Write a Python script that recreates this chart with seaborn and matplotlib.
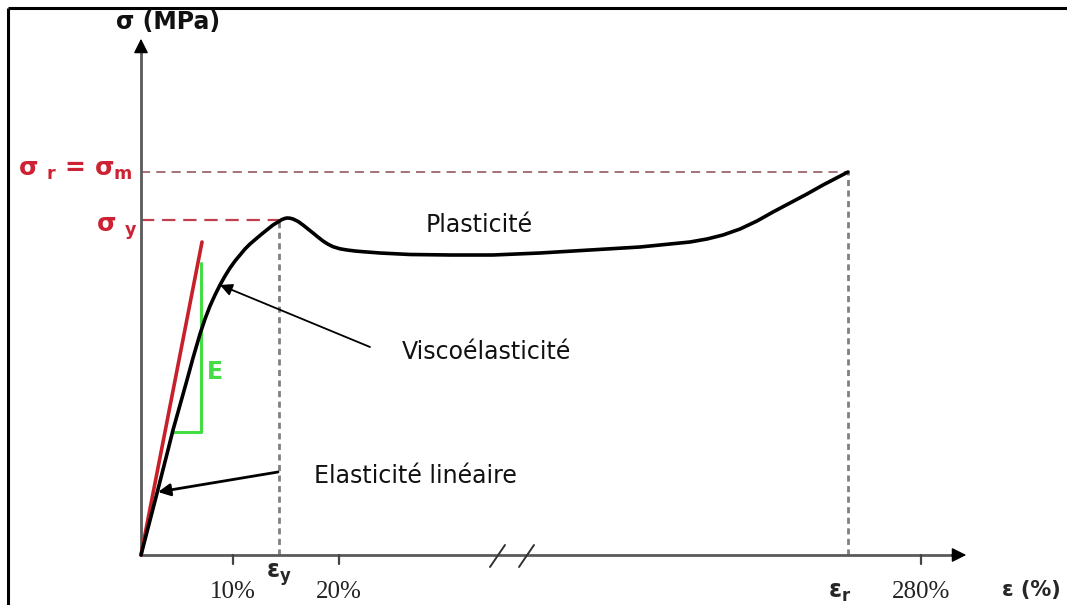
import numpy as np
import pandas as pd
import matplotlib.pyplot as plt
import seaborn as sns

sns.set_style('white')
plt.rcParams['font.family'] = ['DejaVu Sans']
plt.rcParams['mathtext.fontset'] = 'dejavusans'

# schematic units: x = strain position, y = stress (origin at the axes corner)
strain = [0, 14, 27, 32, 46, 52, 59, 64, 69, 74, 79, 84, 89, 94, 99, 104, 109, 116, 122, 127,
          132, 137, 141, 144, 146, 149, 152, 157, 162, 167, 172, 177, 182, 187, 192, 199,
          206, 214, 222, 239, 269, 310, 352, 399, 449, 499, 549, 566, 582, 599, 616, 632,
          649, 666, 682, 707]
stress = [0, 54, 105, 125, 175, 197, 221, 236, 249, 260, 270, 279, 287, 294, 300, 306, 311,
          317, 322, 326, 330, 333, 335.5, 336.6, 337, 336.8, 336, 333.6, 330, 326, 322, 317.9,
          314, 310.8, 308.3, 306.2, 305, 304, 303.3, 302, 300.5, 300, 300, 302, 305, 308, 313,
          316, 320, 326, 334, 343, 352, 361, 370, 383]
curve = pd.DataFrame({'strain': strain, 'stress': stress})

tangent_x = [0, 61]
tangent_y = [0, 313]
slope_x = [32, 60, 60]
slope_y = [123, 123, 292]

eps_y, sig_y = 138, 335
eps_r, sig_r = 707, 383

tick_pos = [92, 198, 780]
tick_labels = ['10%', '20%', '280%']

fig = plt.figure(figsize=(10.67, 6.05), dpi=100)
ax = fig.add_axes([0, 0, 1, 1])
ax.set_xlim(-141, 926)
ax.set_ylim(-50, 555)
ax.axis('off')

# frame (top and left only visible)
ax.plot([-133, 926], [547, 547], color='black', lw=2.2, solid_capstyle='butt')
ax.plot([-133, -133], [-50, 547], color='black', lw=2.2, solid_capstyle='butt')

# guide lines
ax.plot([0, eps_y], [sig_y, sig_y], color='#c0404f', lw=1.6, dashes=(6, 3.5))
ax.plot([0, eps_r], [sig_r, sig_r], color='#8a4a55', lw=1.1, dashes=(6, 4))
ax.plot([eps_y, eps_y], [0, sig_y], color='#808080', lw=2.0, dashes=(2.2, 1.6))
ax.plot([eps_r, eps_r], [0, sig_r], color='#808080', lw=2.0, dashes=(2.2, 1.6))

# axes with arrows
ax.plot([0, 0], [0, 505], color='#5a5a5a', lw=2.0)
ax.plot([0, 812], [0, 0], color='#5a5a5a', lw=2.0)
ax.annotate('', xy=(0, 519), xytext=(0, 500),
            arrowprops=dict(arrowstyle='-|>', color='black', lw=1, mutation_scale=22))
ax.annotate('', xy=(828, 0), xytext=(808, 0),
            arrowprops=dict(arrowstyle='-|>', color='black', lw=1, mutation_scale=22))
for t in tick_pos:
    ax.plot([t, t], [0, -9], color='#444444', lw=1.6)
for bx in [349, 378]:
    ax.plot([bx, bx + 15], [-12, 10], color='#333333', lw=1.4)

# tangent, slope triangle and curve
ax.plot(tangent_x, tangent_y, color='#c8202a', lw=2.6)
ax.plot(slope_x, slope_y, color='#44dd44', lw=2.2)
sns.lineplot(data=curve, x='strain', y='stress', sort=False, estimator=None,
             color='black', lw=2.6, ax=ax)

# arrows to the curve
ax.annotate('', xy=(79, 270), xytext=(229, 208),
            arrowprops=dict(arrowstyle='-|>', color='black', lw=1.3, mutation_scale=18,
                            shrinkA=0, shrinkB=0))
ax.annotate('', xy=(17, 63), xytext=(137, 83),
            arrowprops=dict(arrowstyle='-|>', color='black', lw=2.0, mutation_scale=18,
                            shrinkA=0, shrinkB=0))

# texts
red = '#cc2233'
ax.text(27, 533, 'σ (MPa)', fontsize=17, fontweight='bold', ha='center', va='center',
        color='#111111')
ax.text(-66, 385, r'σ $_{\mathbf{r}}$ = σ$_{\mathbf{m}}$', fontsize=18, fontweight='bold',
        color=red, ha='center', va='center')
ax.text(-24, 326, r'σ $_{\mathbf{y}}$', fontsize=18, fontweight='bold', color=red,
        ha='center', va='center')
ax.text(74, 183, 'E', fontsize=17, fontweight='bold', color='#44dd44', ha='center', va='center')
ax.text(338, 330, 'Plasticité', fontsize=17, ha='center', va='center', color='#111111')
ax.text(345, 203, 'Viscoélasticité', fontsize=17, ha='center', va='center', color='#111111')
ax.text(274, 79, 'Elasticité linéaire', fontsize=17, ha='center', va='center', color='#111111')

for t, lab in zip(tick_pos, tick_labels):
    ax.text(t, -37, lab, fontsize=18, family='Liberation Serif', ha='center', va='center',
            color='#222222')
ax.text(eps_y, -20, r'ε$_{\mathbf{y}}$', fontsize=17, fontweight='bold', ha='center', va='center')
ax.text(eps_r - 8, -37, r'ε$_{\mathbf{r}}$', fontsize=17, fontweight='bold', ha='center',
        va='center')
ax.text(890, -35, 'ε (%)', fontsize=15, fontweight='bold', ha='center', va='center')

fig.savefig('out.png', dpi=100)
